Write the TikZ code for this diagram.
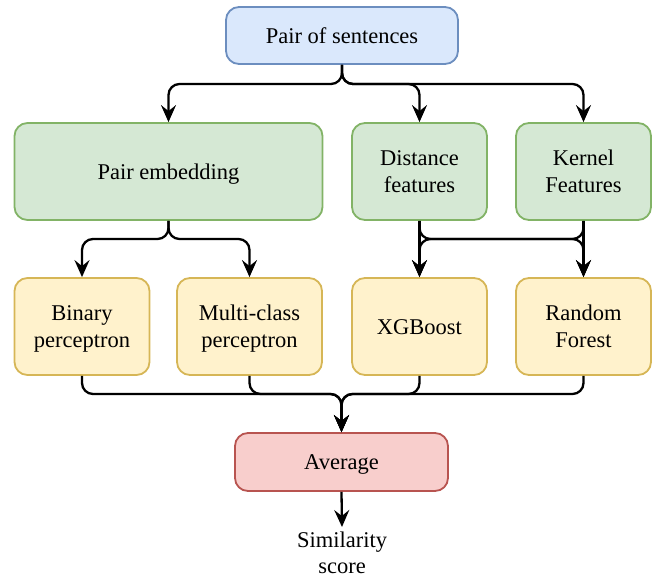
\documentclass[tikz,border=0pt]{standalone}
\usepackage{fontspec}
\setmainfont{Liberation Serif}
\usetikzlibrary{arrows.meta}
\definecolor{bfill}{HTML}{DAE8FC}\definecolor{bdraw}{HTML}{6C8EBF}
\definecolor{gfill}{HTML}{D5E8D4}\definecolor{gdraw}{HTML}{82B366}
\definecolor{yfill}{HTML}{FFF2CC}\definecolor{ydraw}{HTML}{D6B656}
\definecolor{rfill}{HTML}{F8CECC}\definecolor{rdraw}{HTML}{B85450}
\newcommand\ls{\rule[-5.9pt]{0pt}{27pt}}
\begin{document}
\begin{tikzpicture}[x=1pt,y=-1pt,
  box/.style={rounded corners=13pt, line width=1.8pt, align=center, inner sep=0pt,
    font=\fontsize{22.5}{27}\selectfont},
  bluebox/.style={box, fill=bfill, draw=bdraw},
  greenbox/.style={box, fill=gfill, draw=gdraw},
  yellowbox/.style={box, fill=yfill, draw=ydraw},
  redbox/.style={box, fill=rfill, draw=rdraw},
  conn/.style={line width=2.3pt, rounded corners=11pt, -{Stealth[length=17pt,width=15pt,inset=6pt]}},
  txt/.style={align=center, inner sep=0pt, font=\fontsize{22.5}{26}\selectfont}]
\useasboundingbox (0,0) rectangle (654,579);
\node[bluebox, minimum width=232pt, minimum height=57pt] (ps) at (342,35.5) {\ls Pair of sentences};
\node[greenbox, minimum width=308pt, minimum height=97pt] (pe) at (168.5,171.5) {\ls Pair embedding};
\node[greenbox, minimum width=135pt, minimum height=97pt] (df) at (419.5,171.5) {\ls Distance\\\ls features};
\node[greenbox, minimum width=135pt, minimum height=97pt] (kf) at (583.5,171.5) {\ls Kernel\\\ls Features};
\node[yellowbox, minimum width=135pt, minimum height=97pt] (bp) at (82,326.5) {\ls Binary\\\ls perceptron};
\node[yellowbox, minimum width=145pt, minimum height=97pt] (mp) at (249.5,326.5) {\ls Multi-class\\\ls perceptron};
\node[yellowbox, minimum width=135pt, minimum height=97pt] (xg) at (419.5,326.5) {\ls XGBoost};
\node[yellowbox, minimum width=135pt, minimum height=97pt] (rf) at (583.5,326.5) {\ls Random\\\ls Forest};
\node[redbox, minimum width=213pt, minimum height=58pt] (av) at (341.5,462) {\ls Average};
\node[txt, anchor=north] (sim) at (342,527) {\rule{0pt}{20pt}Similarity\\score};
\coordinate (r1) at (0,84);
\coordinate (r2) at (0,239);
\coordinate (r3) at (0,394);
\draw[conn] (ps.south) -- (ps.south |- r1) -| (pe.north);
\draw[conn] (ps.south) -- (ps.south |- r1) -| (df.north);
\draw[conn] (ps.south) -- (ps.south |- r1) -| (kf.north);
\draw[conn] (pe.south) -- (pe.south |- r2) -| (bp.north);
\draw[conn] (pe.south) -- (pe.south |- r2) -| (mp.north);
\draw[conn] (df.south) -- (xg.north);
\draw[conn] (kf.south) -- (rf.north);
\draw[conn] (df.south) -- (df.south |- r2) -| (rf.north);
\draw[conn] (kf.south) -- (kf.south |- r2) -| (xg.north);
\draw[conn] (bp.south) -- (bp.south |- r3) -| (av.north);
\draw[conn] (mp.south) -- (mp.south |- r3) -| (av.north);
\draw[conn] (xg.south) -- (xg.south |- r3) -| (av.north);
\draw[conn] (rf.south) -- (rf.south |- r3) -| (av.north);
\draw[conn] (av.south) -- (sim.north);
\end{tikzpicture}
\end{document}
